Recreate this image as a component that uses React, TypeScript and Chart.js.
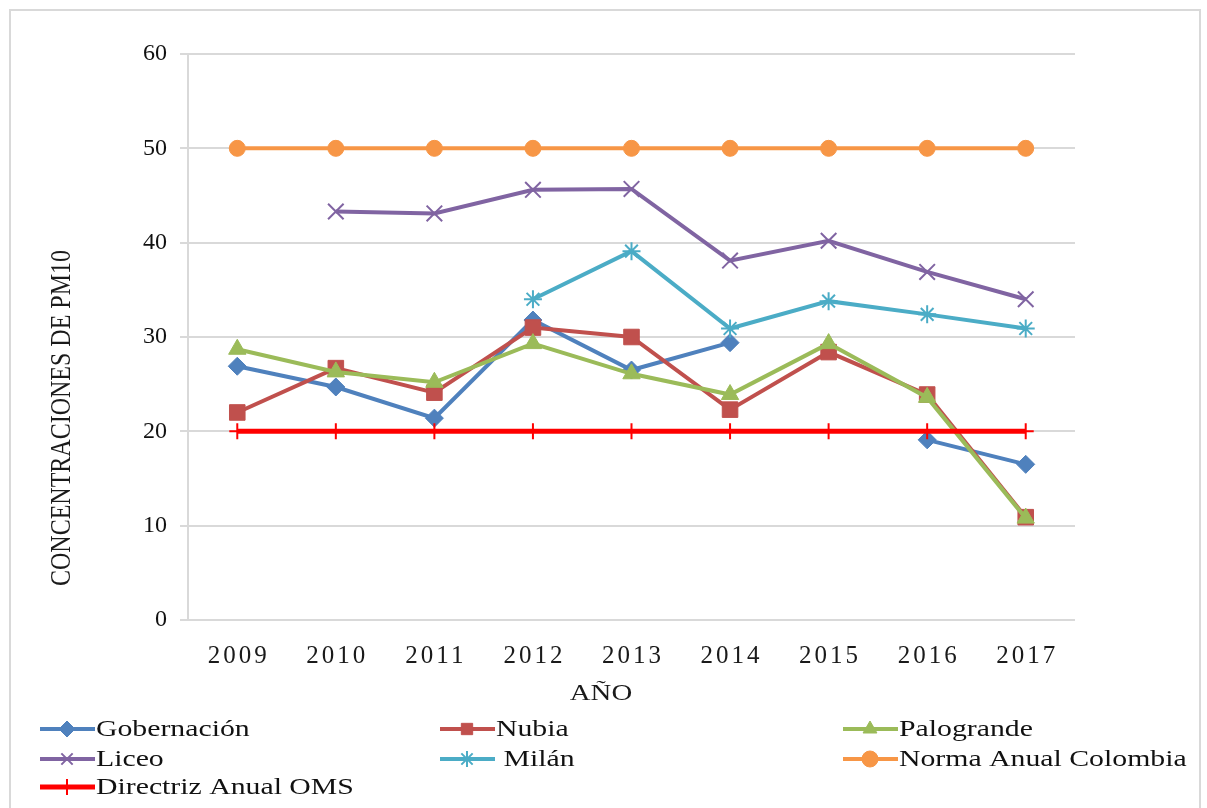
import React, { useEffect, useRef } from "react";
import { Chart, registerables } from "chart.js";
import { drawPoint } from "chart.js/helpers";

Chart.register(...registerables);

const years = ["2009", "2010", "2011", "2012", "2013", "2014", "2015", "2016", "2017"];
const gobernacion = [26.9, 24.7, 21.4, 31.8, 26.5, 29.4, null, 19.1, 16.5];
const nubia = [22.0, 26.7, 24.1, 31.0, 30.0, 22.3, 28.4, 23.9, 10.9];
const palogrande = [28.7, 26.3, 25.2, 29.3, 26.1, 23.9, 29.3, 23.6, 10.8];
const liceo = [null, 43.3, 43.1, 45.6, 45.7, 38.1, 40.2, 36.9, 34.0];
const milan = [null, null, null, 34.0, 39.1, 30.9, 33.8, 32.4, 30.9];
const normaColombia = [50, 50, 50, 50, 50, 50, 50, 50, 50];
const directrizOMS = [20, 20, 20, 20, 20, 20, 20, 20, 20];

const yTicks = [0, 10, 20, 30, 40, 50, 60];
const yTitle = "CONCENTRACIONES DE PM10";
const xTitle = "AÑO";

const SERIF = "'Liberation Serif', 'Times New Roman', serif";

function drawStretchedText(ctx: CanvasRenderingContext2D, text: string, x: number, y: number, sx: number, align: CanvasTextAlign) {
  ctx.save();
  ctx.translate(x, y);
  ctx.scale(sx, 1);
  ctx.textAlign = align;
  ctx.fillText(text, 0, 0);
  ctx.restore();
}

const decorPlugin = {
  id: "decor",
  beforeDraw(chart: any) {
    const ctx = chart.ctx as CanvasRenderingContext2D;
    ctx.save();
    ctx.fillStyle = "#ffffff";
    ctx.fillRect(0, 0, chart.width, chart.height);
    ctx.strokeStyle = "#d9d9d9";
    ctx.lineWidth = 2;
    ctx.strokeRect(10, 10, 1190, 820);
    ctx.restore();
  },
  afterDraw(chart: any) {
    const ctx = chart.ctx as CanvasRenderingContext2D;
    const xs = chart.scales.x;
    const area = chart.chartArea;
    ctx.save();
    // x tick labels
    ctx.fillStyle = "#1a1a1a";
    ctx.font = `25px ${SERIF}`;
    ctx.textBaseline = "middle";
    (ctx as any).letterSpacing = "3px";
    years.forEach((lab, i) => {
      const px = xs.getPixelForValue(i);
      ctx.textAlign = "center";
      ctx.fillText(lab, px + 1.5, area.bottom + 36);
    });
    (ctx as any).letterSpacing = "0px";
    // x title
    ctx.font = `24px ${SERIF}`;
    drawStretchedText(ctx, xTitle, 601, 694, 1.2, "center");
    // y title
    ctx.save();
    ctx.translate(62, 418);
    ctx.rotate(-Math.PI / 2);
    ctx.scale(1, 1.2);
    ctx.textAlign = "center";
    ctx.textBaseline = "middle";
    ctx.fillText(yTitle, 0, 0);
    ctx.restore();

    // legend
    const colX = [40, 440, 843];
    const rowY = [729, 759, 787];
    chart.data.datasets.forEach((ds: any, i: number) => {
      const c = i % 3;
      const r = Math.floor(i / 3);
      const x0 = colX[c];
      const y0 = rowY[r];
      ctx.strokeStyle = ds.borderColor;
      ctx.lineWidth = ds.borderWidth;
      ctx.lineCap = "butt";
      ctx.beginPath();
      ctx.moveTo(x0, y0);
      ctx.lineTo(x0 + 55, y0);
      ctx.stroke();
      ctx.fillStyle = ds.pointBackgroundColor;
      ctx.strokeStyle = ds.pointBorderColor;
      ctx.lineWidth = ds.pointBorderWidth;
      drawPoint(ctx, { pointStyle: ds.pointStyle, radius: Math.min(ds.pointRadius, 8), rotation: 0, borderWidth: ds.pointBorderWidth }, x0 + 27, y0);
      ctx.fillStyle = "#111111";
      ctx.font = `24px ${SERIF}`;
      ctx.textBaseline = "middle";
      drawStretchedText(ctx, ds.label, x0 + 56, y0 + 1, 1.24, "left");
    });
    ctx.restore();
  },
};

function mk(label: string, data: (number | null)[], color: string, style: string, radius: number, order: number, width = 4, pbw = 1) {
  return {
    label,
    data,
    borderColor: color,
    backgroundColor: color,
    borderWidth: width,
    pointStyle: style,
    pointRadius: radius,
    pointHoverRadius: radius,
    pointBackgroundColor: color,
    pointBorderColor: color,
    pointBorderWidth: pbw,
    spanGaps: false,
    tension: 0,
    order,
  };
}

export default function App() {
  const ref = useRef<HTMLCanvasElement | null>(null);
  useEffect(() => {
    if (!ref.current) return;
    const chart = new Chart(ref.current, {
      type: "line",
      data: {
        labels: years,
        datasets: [
          mk("Gobernación", gobernacion, "#4F81BD", "rectRot", 9, 6),
          mk("Nubia", nubia, "#C0504D", "rect", 11, 5),
          mk("Palogrande", palogrande, "#9BBB59", "triangle", 10, 4),
          mk("Liceo", liceo, "#8064A2", "crossRot", 11, 3, 4, 2),
          mk(" Milán", milan, "#4BACC6", "star", 9, 2, 4, 2),
          mk("Norma Anual Colombia", normaColombia, "#F79646", "circle", 8, 1),
          mk("Directriz Anual OMS", directrizOMS, "#FF0000", "cross", 8, 0, 5, 2),
        ] as any,
      },
      options: {
        animation: false,
        responsive: false,
        maintainAspectRatio: false,
        layout: { padding: { left: 0, top: 54, right: 132, bottom: 88 } },
        plugins: { legend: { display: false }, tooltip: { enabled: false }, title: { display: false } },
        scales: {
          x: {
            type: "category",
            offset: true,
            grid: { display: false },
            border: { display: false },
            ticks: { display: false },
            afterFit: (s: any) => { s.height = 100; },
          },
          y: {
            min: 0,
            max: 60,
            afterBuildTicks: (s: any) => { s.ticks = yTicks.map((v) => ({ value: v })); },
            grid: { color: "#d9d9d9", lineWidth: 2, drawTicks: true, tickLength: 8 },
            border: { display: true, color: "#d9d9d9", width: 2 },
            ticks: { color: "#111111", font: { family: SERIF, size: 24 }, padding: 13 },
            afterFit: (s: any) => { s.width = 188; },
          },
        },
      },
      plugins: [decorPlugin],
    });
    return () => chart.destroy();
  }, []);
  return (
    <div style={{ position: "absolute", left: 0, top: 0, width: 1207, height: 808 }}>
      <canvas ref={ref} width={1207} height={808} style={{ width: 1207, height: 808, display: "block" }} />
    </div>
  );
}
